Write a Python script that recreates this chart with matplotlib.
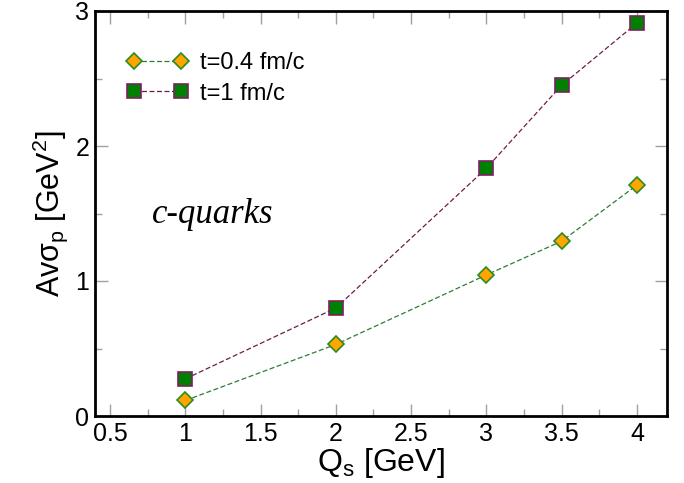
import matplotlib
matplotlib.use("Agg")
import matplotlib.pyplot as plt
from matplotlib.ticker import MultipleLocator, FormatStrFormatter

plt.rcParams['font.family'] = ['Liberation Sans', 'DejaVu Sans']
plt.rcParams['mathtext.fontset'] = 'custom'
plt.rcParams['mathtext.rm'] = 'Liberation Sans'
plt.rcParams['mathtext.it'] = 'Liberation Sans'

qs_a = [1, 2, 3, 3.5, 4]
sig_a = [0.115, 0.53, 1.045, 1.295, 1.71]
qs_b = [1, 2, 3, 3.5, 4]
sig_b = [0.275, 0.80, 1.835, 2.45, 2.91]
label_a = "t=0.4 fm/c"
label_b = "t=1 fm/c"

fig = plt.figure(figsize=(6.84, 4.83), dpi=100)
ax = fig.add_axes([95/684, 1-416/483, (667-95)/684, (416-11)/483])

ax.plot(qs_a, sig_a, linestyle=(0, (4, 2)), color='#2e7d32', lw=0.9,
        marker='D', markersize=8.5, markerfacecolor='#ffa500',
        markeredgecolor='#2e8b22', markeredgewidth=1.2, label=label_a)
ax.plot(qs_b, sig_b, linestyle=(0, (4, 2)), color='#6b1d4a', lw=0.9,
        marker='s', markersize=9.5, markerfacecolor='#008000',
        markeredgecolor='#7b2060', markeredgewidth=1.2, label=label_b)

ax.set_xlim(0.4, 4.2)
ax.set_ylim(0, 3)
ax.xaxis.set_major_locator(MultipleLocator(0.5))
ax.xaxis.set_minor_locator(MultipleLocator(0.25))
ax.yaxis.set_major_locator(MultipleLocator(1))
ax.yaxis.set_minor_locator(MultipleLocator(0.5))
ax.xaxis.set_major_formatter(FormatStrFormatter('%g'))
ax.yaxis.set_major_formatter(FormatStrFormatter('%g'))
ax.tick_params(which='both', direction='in', top=True, right=True,
               color='#a0a0a0', labelsize=18, pad=4)
ax.tick_params(which='major', length=9, width=1)
ax.tick_params(which='minor', length=5, width=1)
for s in ax.spines.values():
    s.set_linewidth(2)

ax.set_xlabel(r'Q$_\mathrm{s}$ [GeV]', fontsize=23, labelpad=0)
ax.set_ylabel(r'Av$\sigma_\mathrm{p}$ [GeV$^2$]', fontsize=22, labelpad=4)

ax.text(0.78, 1.49, 'c-quarks', fontsize=25, fontstyle='italic',
        family=['Liberation Serif', 'DejaVu Serif'], va='center', ha='left')

leg = ax.legend(loc='upper left', bbox_to_anchor=(0.056, 0.898), frameon=False,
                fontsize=17, numpoints=2, handlelength=2.6, handletextpad=0.5,
                labelspacing=0.35, borderaxespad=0, borderpad=0)

fig.savefig('out.png', dpi=100)
